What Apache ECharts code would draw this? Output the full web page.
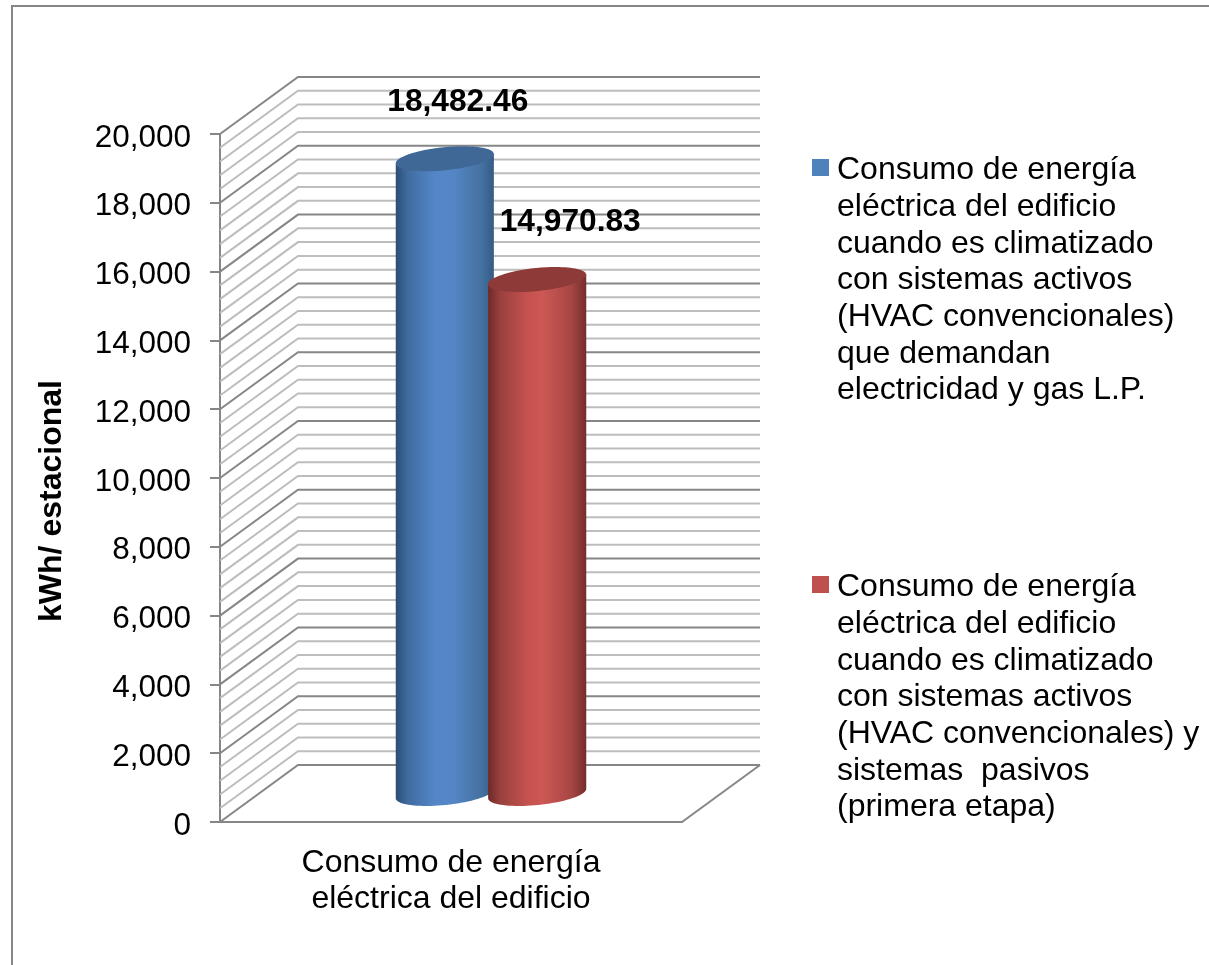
<!DOCTYPE html>
<html>
<head>
<meta charset="utf-8">
<title>Consumo de energía eléctrica</title>
<script src="https://cdn.jsdelivr.net/npm/echarts@6/dist/echarts.min.js"></script>
<style>
html, body { margin: 0; padding: 0; background: #fff; }
#chart { width: 1209px; height: 965px; }
</style>
</head>
<body>
<div id="chart"></div>
<script>
var categories = ['Consumo de energía\neléctrica del edificio'];
var seriesNames = [
	'Consumo de energía\neléctrica del edificio\ncuando es climatizado\ncon sistemas activos\n(HVAC convencionales)\nque demandan\nelectricidad y gas L.P.',
	'Consumo de energía\neléctrica del edificio\ncuando es climatizado\ncon sistemas activos\n(HVAC convencionales) y\nsistemas  pasivos\n(primera etapa)'
];
var activeValues = [18482.46];
var passiveValues = [14970.83];
var wallLevels = [0, 400, 800, 1200, 1600, 2000, 2400, 2800, 3200, 3600, 4000, 4400, 4800, 5200, 5600, 6000,
	6400, 6800, 7200, 7600, 8000, 8400, 8800, 9200, 9600, 10000, 10400, 10800, 11200, 11600, 12000,
	12400, 12800, 13200, 13600, 14000, 14400, 14800, 15200, 15600, 16000, 16400, 16800, 17200, 17600,
	18000, 18400, 18800, 19200, 19600, 20000];

var FONT = '"Liberation Sans", Arial, sans-serif';
var DEPTH_X = 78;
var DEPTH_Y = 57;
var AXIS_GRAY = '#868686';
var MINOR_GRAY = '#bdbdbd';

// paredes y piso del grafico 3D
function renderWall(params, api) {
	var level = api.value(0);
	var rect = params.coordSys;
	var y = api.coord([0, level])[1];
	var major = level % 2000 === 0;
	var color = major ? AXIS_GRAY : MINOR_GRAY;
	var children = [{
		type: 'polyline',
		shape: { points: [[rect.x, y], [rect.x + DEPTH_X, y - DEPTH_Y], [rect.x + rect.width + DEPTH_X, y - DEPTH_Y]] },
		style: { stroke: color, lineWidth: 2, fill: null }
	}];
	if (level === 0) {
		children.push({
			type: 'line',
			shape: { x1: rect.x + rect.width, y1: y, x2: rect.x + rect.width + DEPTH_X, y2: y - DEPTH_Y },
			style: { stroke: AXIS_GRAY, lineWidth: 2 }
		});
	}
	return { type: 'group', children: children };
}

function cylinderRenderer(side, colors, labelDx, labelDy) {
	return function (params, api) {
		var band = api.size([1, 0])[0];
		var top = api.coord([api.value(0), api.value(1)]);
		var base = api.coord([api.value(0), 0]);
		var cx = top[0] + side * band * 0.1 + DEPTH_X / 2 + 1;
		var topY = top[1] - DEPTH_Y / 2 + 1;
		var baseY = base[1] - DEPTH_Y / 2;
		var a = 49.3, b = 11.5, tilt = 5.8 * Math.PI / 180;
		var points = [];
		// lado izquierdo, arco inferior de la base y lado derecho
		points.push([cx - a * Math.cos(tilt), topY + a * Math.sin(tilt)]);
		for (var i = 0; i <= 40; i++) {
			var t = Math.PI - Math.PI * i / 40;
			var ex = a * Math.cos(t), ey = b * Math.sin(t);
			points.push([cx + ex * Math.cos(tilt) + ey * Math.sin(tilt), baseY - ex * Math.sin(tilt) + ey * Math.cos(tilt)]);
		}
		points.push([cx + a * Math.cos(tilt), topY - a * Math.sin(tilt)]);
		return {
			type: 'group',
			children: [{
				type: 'polygon',
				shape: { points: points },
				style: { fill: new echarts.graphic.LinearGradient(0, 0, 1, 0, colors.body) }
			}, {
				type: 'ellipse',
				shape: { cx: cx, cy: topY, rx: a, ry: b },
				originX: cx,
				originY: topY,
				rotation: tilt,
				style: { fill: colors.top }
			}, {
				type: 'text',
				style: {
					text: echarts.format.addCommas(api.value(1).toFixed(2)),
					x: cx + labelDx,
					y: topY + labelDy,
					align: 'center',
					verticalAlign: 'middle',
					fill: '#000',
					font: 'bold 31.7px ' + FONT
				}
			}]
		};
	};
}

var BLUE = {
	top: '#3f6897',
	body: [
		{ offset: 0, color: '#2c4d75' },
		{ offset: 0.12, color: '#3f6b9f' },
		{ offset: 0.4, color: '#5587c8' },
		{ offset: 0.6, color: '#5485c5' },
		{ offset: 0.88, color: '#44719f' },
		{ offset: 1, color: '#365a85' }
	]
};
var RED = {
	top: '#8e3a38',
	body: [
		{ offset: 0, color: '#6c2a28' },
		{ offset: 0.12, color: '#99403d' },
		{ offset: 0.4, color: '#c4524f' },
		{ offset: 0.55, color: '#cd5855' },
		{ offset: 0.85, color: '#a64644' },
		{ offset: 1, color: '#742d2b' }
	]
};

// el cuadrado queda en la primera linea, los puntos extra solo amplian la caja del icono
var LEGEND_ICON = 'path://M0 0L0 0M0 7H17V24H0ZM20 257L20 257';

var option = {
	animation: false,
	backgroundColor: '#fff',
	textStyle: { fontFamily: FONT },
	graphic: [{
		type: 'rect',
		z: -10,
		silent: true,
		shape: { x: 12, y: 6, width: 1400, height: 1200 },
		style: { fill: '#fff', stroke: AXIS_GRAY, lineWidth: 2 }
	}],
	grid: { left: 220, right: 527, top: 134, bottom: 143 },
	legend: {
		orient: 'vertical',
		left: 812,
		top: 152,
		itemWidth: 20,
		itemHeight: 257,
		itemGap: 160,
		padding: 0,
		selectedMode: false,
		icon: LEGEND_ICON,
		textStyle: { fontFamily: FONT, fontSize: 32, color: '#000', lineHeight: 36.7 },
		data: seriesNames
	},
	xAxis: {
		type: 'category',
		data: categories,
		axisTick: { show: false },
		axisLine: { lineStyle: { color: AXIS_GRAY, width: 2 } },
		axisLabel: { fontFamily: FONT, fontSize: 32, color: '#000', lineHeight: 36, margin: 23, interval: 0 }
	},
	yAxis: {
		type: 'value',
		min: 0,
		max: 20000,
		interval: 2000,
		name: 'kWh/ estacional',
		nameLocation: 'middle',
		nameRotate: 90,
		nameGap: 152,
		nameTextStyle: { fontFamily: FONT, fontSize: 32, fontWeight: 'bold', color: '#000', padding: [0, 46, 0, 0] },
		splitLine: { show: false },
		axisLine: { show: true, lineStyle: { color: AXIS_GRAY, width: 2 } },
		axisTick: { show: true, length: 10, lineStyle: { color: AXIS_GRAY, width: 2 } },
		axisLabel: { fontFamily: FONT, fontSize: 31.5, color: '#000', margin: 29, verticalAlign: 'top', lineHeight: 8 }
	},
	series: [{
		type: 'custom',
		name: 'paredes',
		silent: true,
		z: 1,
		renderItem: renderWall,
		encode: { y: 0 },
		data: wallLevels.map(function (v) { return [v]; })
	}, {
		type: 'custom',
		name: seriesNames[0],
		z: 2,
		itemStyle: { color: '#4f81bd' },
		renderItem: cylinderRenderer(-1, BLUE, 13, -56),
		encode: { x: 0, y: 1 },
		data: activeValues.map(function (v, i) { return [i, v]; })
	}, {
		type: 'custom',
		name: seriesNames[1],
		z: 3,
		itemStyle: { color: '#c0504d' },
		renderItem: cylinderRenderer(1, RED, 33, -57),
		encode: { x: 0, y: 1 },
		data: passiveValues.map(function (v, i) { return [i, v]; })
	}]
};

var chart = echarts.init(document.getElementById('chart'));
chart.setOption(option, true);
</script>
</body>
</html>
